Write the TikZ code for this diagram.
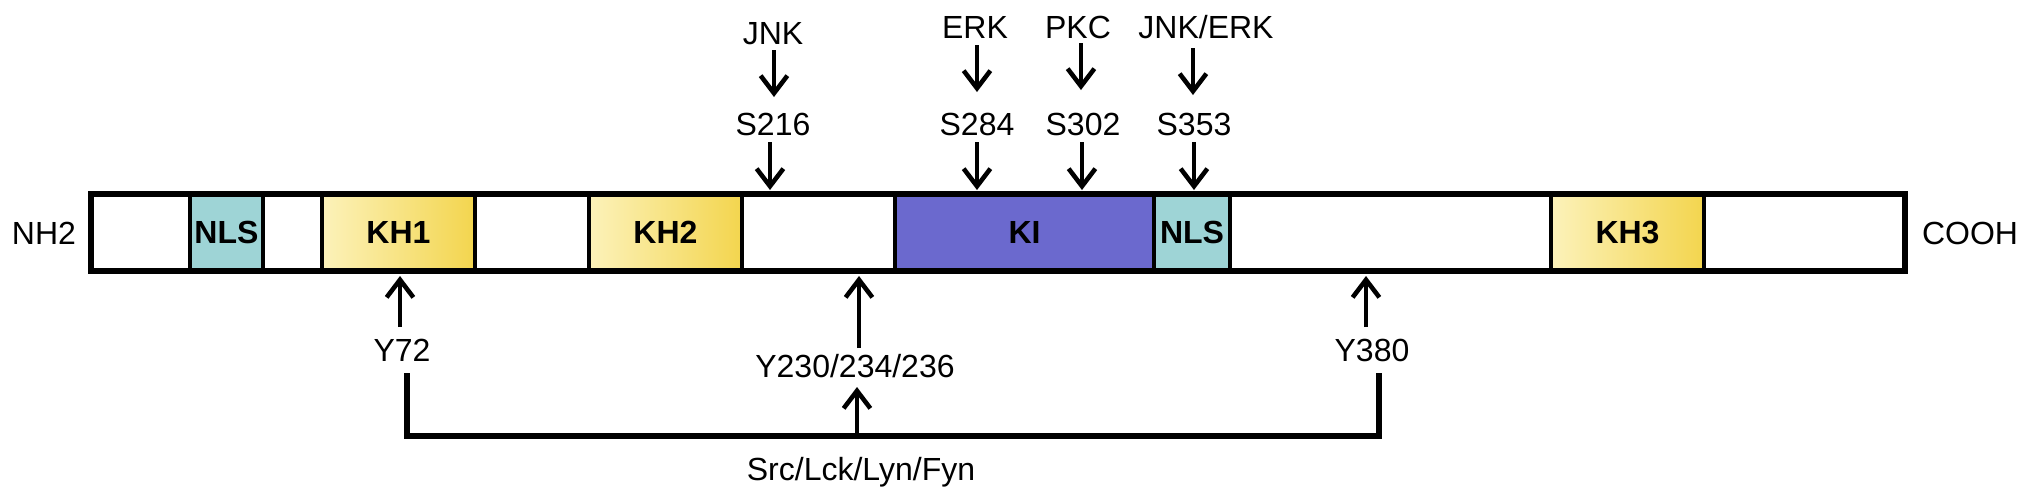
\documentclass[tikz,border=0pt]{standalone}
\usepackage{fontspec}
\setmainfont{Liberation Sans}
\usetikzlibrary{arrows.meta}
\definecolor{nlsc}{RGB}{158,212,214}
\definecolor{kic}{RGB}{107,105,206}
\definecolor{khl}{RGB}{252,242,186}
\definecolor{khr}{RGB}{243,213,78}
\begin{document}
\begin{tikzpicture}[x=0.01cm,y=-0.01cm,
  lbl/.style={font=\fontsize{9.1}{11}\selectfont, inner sep=0pt, anchor=base},
  seg/.style={draw, line width=1.3pt, inner sep=0pt, minimum height=0.77cm,
    font=\fontsize{9.1}{11}\selectfont\bfseries},
  khseg/.style={seg, left color=khl, right color=khr},
  arr/.style={line width=1.3pt, -{Straight Barb[length=5pt,width=7.6pt]}},
  brk/.style={line width=1.5pt},
  frame/.style={line width=1.7pt}]
\useasboundingbox (0,0) rectangle (2032,499);

% domains
\node[seg, fill=nlsc, minimum width=0.73cm] (nls1) at (226.5,232.5) {NLS};
\node[khseg, minimum width=1.53cm] (kh1) at (398.5,232.5) {KH1};
\node[khseg, minimum width=1.53cm] (kh2) at (665.5,232.5) {KH2};
\node[seg, fill=kic, minimum width=2.59cm] (ki) at (1024.5,232.5) {KI};
\node[seg, fill=nlsc, minimum width=0.76cm] (nls2) at (1192,232.5) {NLS};
\node[khseg, minimum width=1.53cm] (kh3) at (1627.5,232.5) {KH3};
\coordinate (barnw) at (91,194);
\coordinate (barse) at (1905,271);
\draw[frame] (barnw) rectangle (barse);

\node[lbl] (nh2) at (44,244.5) {NH2};
\node[lbl] (cooh) at (1970,244.5) {COOH};

% top labels
\node[lbl] (jnk) at (773,44.5) {JNK};
\node[lbl] (erk) at (975,38.5) {ERK};
\node[lbl] (pkc) at (1078,38.5) {PKC};
\node[lbl] (jnkerk) at (1206,38.5) {JNK/ERK};
\node[lbl] (s216) at (773,135.5) {S216};
\node[lbl] (s284) at (977,135.5) {S284};
\node[lbl] (s302) at (1083,135.5) {S302};
\node[lbl] (s353) at (1194,135.5) {S353};

\coordinate (a1s) at (774,50);  \coordinate (a1e) at (774,97);
\coordinate (a2s) at (977,45);  \coordinate (a2e) at (977,92);
\coordinate (a3s) at (1081,43); \coordinate (a3e) at (1081,90);
\coordinate (a4s) at (1193,48); \coordinate (a4e) at (1193,95);
\coordinate (b1s) at (770,142); \coordinate (b1e) at (770,190);
\coordinate (b2s) at (977,142); \coordinate (b2e) at (977,190);
\coordinate (b3s) at (1082,142);\coordinate (b3e) at (1082,190);
\coordinate (b4s) at (1194,142);\coordinate (b4e) at (1194,190);
\foreach \n in {a1,a2,a3,a4,b1,b2,b3,b4} \draw[arr] (\n s) -- (\n e);

% bottom labels
\node[lbl] (y72) at (402,361.5) {Y72};
\node[lbl] (y230) at (855,377) {Y230/234/236};
\node[lbl] (y380) at (1372,361.5) {Y380};
\node[lbl] (src) at (861,480.5) {Src/Lck/Lyn/Fyn};

\coordinate (c1s) at (400,327);  \coordinate (c1e) at (400,276);
\coordinate (c2s) at (859,348);  \coordinate (c2e) at (859,276);
\coordinate (c3s) at (1366,327); \coordinate (c3e) at (1366,276);
\coordinate (c4s) at (857,436);  \coordinate (c4e) at (857,387);
\foreach \n in {c1,c2,c3,c4} \draw[arr] (\n s) -- (\n e);

\coordinate (bl) at (407,373);
\coordinate (br) at (1379,373);
\draw[brk] (bl) |- (c4s) -| (br);
\end{tikzpicture}
\end{document}
